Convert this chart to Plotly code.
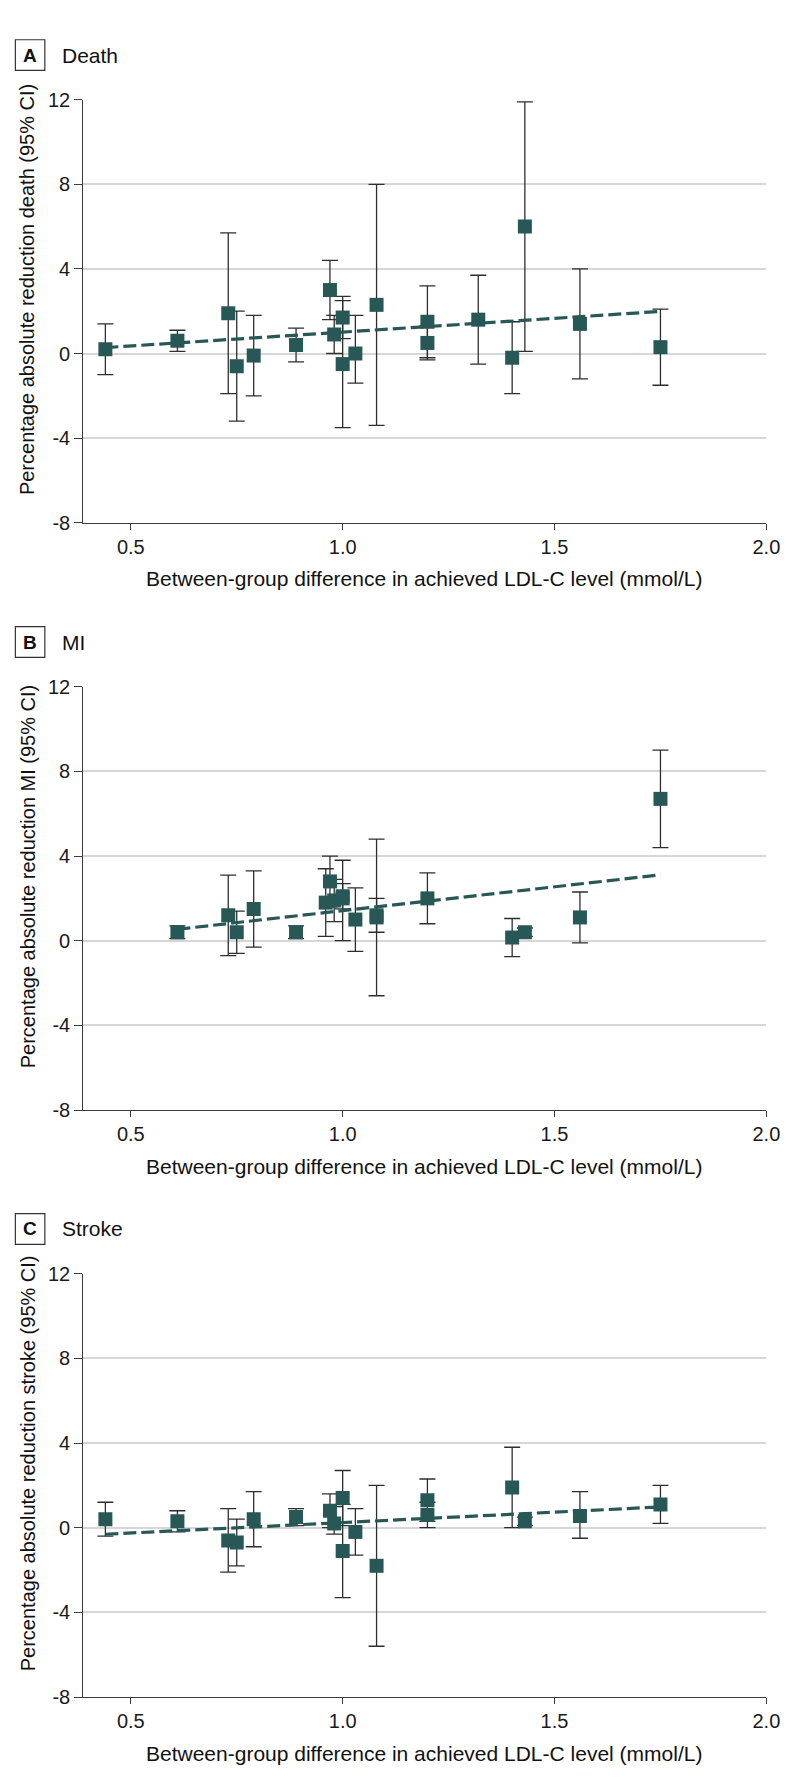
import plotly.graph_objects as go

W, H = 794, 1784

# ---- datos ----
ldl_death = [0.44, 0.61, 0.73, 0.75, 0.79, 0.89, 0.97, 0.98, 1.00, 1.00, 1.03, 1.08, 1.20, 1.20, 1.32, 1.40, 1.43, 1.56, 1.75]
arr_death = [0.2, 0.6, 1.9, -0.6, -0.1, 0.4, 3.0, 0.9, 1.7, -0.5, 0.0, 2.3, 1.5, 0.5, 1.6, -0.2, 6.0, 1.4, 0.3]
lo_death = [-1.0, 0.1, -1.9, -3.2, -2.0, -0.4, 1.6, 0.0, 0.7, -3.5, -1.4, -3.4, -0.2, -0.3, -0.5, -1.9, 0.1, -1.2, -1.5]
hi_death = [1.4, 1.1, 5.7, 2.0, 1.8, 1.2, 4.4, 1.8, 2.7, 2.5, 1.8, 8.0, 3.2, 1.3, 3.7, 1.5, 11.9, 4.0, 2.1]
fit_death_x = [0.44, 1.75]
fit_death_y = [0.28, 1.99]

ldl_mi = [0.61, 0.73, 0.75, 0.79, 0.89, 0.96, 0.97, 0.98, 1.00, 1.00, 1.03, 1.08, 1.08, 1.20, 1.40, 1.43, 1.56, 1.75]
arr_mi = [0.4, 1.2, 0.4, 1.5, 0.4, 1.8, 2.8, 1.9, 2.0, 2.1, 1.0, 1.1, 1.2, 2.0, 0.15, 0.4, 1.1, 6.7]
lo_mi = [0.1, -0.7, -0.6, -0.3, 0.1, 0.2, 1.6, 0.9, 0.0, 1.5, -0.5, -2.6, 0.4, 0.8, -0.75, 0.2, -0.1, 4.4]
hi_mi = [0.7, 3.1, 1.4, 3.3, 0.7, 3.4, 4.0, 2.9, 3.8, 2.7, 2.5, 4.8, 2.0, 3.2, 1.05, 0.6, 2.3, 9.0]
fit_mi_x = [0.61, 1.75]
fit_mi_y = [0.54, 3.11]

ldl_stroke = [0.44, 0.61, 0.73, 0.75, 0.79, 0.89, 0.97, 0.98, 1.00, 1.00, 1.03, 1.08, 1.20, 1.20, 1.40, 1.43, 1.56, 1.75]
arr_stroke = [0.4, 0.3, -0.6, -0.7, 0.4, 0.5, 0.8, 0.2, 1.4, -1.1, -0.2, -1.8, 1.3, 0.6, 1.9, 0.3, 0.55, 1.1]
lo_stroke = [-0.4, -0.2, -2.1, -1.8, -0.9, 0.1, 0.0, -0.3, 0.1, -3.3, -1.3, -5.6, 0.3, 0.0, 0.0, 0.1, -0.5, 0.2]
hi_stroke = [1.2, 0.8, 0.9, 0.4, 1.7, 0.9, 1.6, 1.0, 2.7, 1.1, 0.9, 2.0, 2.3, 1.2, 3.8, 0.5, 1.7, 2.0]
fit_stroke_x = [0.44, 1.75]
fit_stroke_y = [-0.31, 0.98]

paneles = [
    ("A", "Death", "death", ldl_death, arr_death, lo_death, hi_death, fit_death_x, fit_death_y),
    ("B", "MI", "MI", ldl_mi, arr_mi, lo_mi, hi_mi, fit_mi_x, fit_mi_y),
    ("C", "Stroke", "stroke", ldl_stroke, arr_stroke, lo_stroke, hi_stroke, fit_stroke_x, fit_stroke_y),
]

x_ticks = [0.5, 1.0, 1.5, 2.0]
x_labels = ["0.5", "1.0", "1.5", "2.0"]
y_ticks = [-8, -4, 0, 4, 8, 12]
y_labels = ["-8", "-4", "0", "4", "8", "12"]

# ---- estilo ----
FONT = "Liberation Sans, Arial, sans-serif"
VERDE = "#275856"
GRIS_ERR = "#2e2e2e"
EJE = "#3c3c3c"
GRID = "#d6d6d6"

# posiciones en pixeles (borde superior / inferior de cada panel)
tops = [81.7, 676.0, 1270.3]
bottoms = [510.0, 1104.7, 1699.0]
LEFT, RIGHT = 76.7, 772.0


def fx(px):
    return px / W


def fy(px):
    return 1 - px / H


fig = go.Figure()
annots = []
shapes = []

for i, (letra, nombre, etiqueta, xs, ys, lo, hi, fxs, fys) in enumerate(paneles):
    n = "" if i == 0 else str(i + 1)
    ax_x, ax_y = "x" + n, "y" + n

    plus = [h - v for h, v in zip(hi, ys)]
    minus = [v - l for v, l in zip(ys, lo)]

    fig.add_trace(go.Scatter(
        x=xs, y=ys, mode="markers", xaxis=ax_x, yaxis=ax_y,
        marker=dict(symbol="square", size=14, color=VERDE, line=dict(width=0)),
        error_y=dict(type="data", symmetric=False, array=plus, arrayminus=minus,
                     color=GRIS_ERR, thickness=1.3, width=8),
        showlegend=False, hoverinfo="skip"))

    fig.add_trace(go.Scatter(
        x=fxs, y=fys, mode="lines", xaxis=ax_x, yaxis=ax_y,
        line=dict(color=VERDE, width=3.2, dash="13px,5px"),
        showlegend=False, hoverinfo="skip"))

    top, bot = tops[i], bottoms[i]
    fig.layout["xaxis" + n] = dict(
        domain=[fx(LEFT), fx(RIGHT)], anchor=ax_y, range=[0.388, 2.0],
        tickvals=x_ticks, ticktext=x_labels,
        showgrid=False, zeroline=False, showline=True, linecolor=EJE, linewidth=1.2,
        ticks="outside", ticklen=6, tickcolor=EJE, tickwidth=1.2,
        tickfont=dict(family=FONT, size=20, color="#1a1a1a"))
    fig.layout["yaxis" + n] = dict(
        domain=[fy(bot), fy(top)], anchor=ax_x, range=[-8, 12],
        tickvals=y_ticks, ticktext=y_labels, showgrid=True, gridcolor=GRID, gridwidth=1.5,
        zeroline=False, showline=True, linecolor=EJE, linewidth=1.2,
        ticks="outside", ticklen=8, tickcolor=EJE, tickwidth=1.2,
        tickfont=dict(family=FONT, size=20, color="#1a1a1a"))

    # cabecera: letra en caja + nombre
    cy = top - 45.2
    shapes.append(dict(type="rect", xref="paper", yref="paper",
                       x0=fx(7.5), x1=fx(37.5), y0=fy(cy + 15.5), y1=fy(cy - 15.5),
                       line=dict(color="#333333", width=1.2), fillcolor="white"))
    annots.append(dict(text="<b>" + letra + "</b>", x=fx(22.5), y=fy(cy), xref="paper", yref="paper",
                       showarrow=False, xanchor="center", yanchor="middle",
                       font=dict(family=FONT, size=19, color="#111111")))
    annots.append(dict(text=nombre, x=fx(53), y=fy(cy), xref="paper", yref="paper",
                       showarrow=False, xanchor="left", yanchor="middle",
                       font=dict(family=FONT, size=21, color="#111111")))

    # titulos de ejes
    annots.append(dict(text="Between-group difference in achieved LDL-C level (mmol/L)",
                       x=fx(423), y=fy(bot + 56.7), xref="paper", yref="paper",
                       showarrow=False, xanchor="center", yanchor="middle",
                       font=dict(family=FONT, size=21, color="#111111")))
    annots.append(dict(text="Percentage absolute reduction " + etiqueta + " (95% CI)",
                       x=fx(20), y=fy((top + bot) / 2 - 22), xref="paper", yref="paper",
                       showarrow=False, textangle=-90, xanchor="center", yanchor="middle",
                       font=dict(family=FONT, size=20, color="#111111")))

fig.update_layout(
    width=W, height=H,
    margin=dict(l=0, r=0, t=0, b=0),
    paper_bgcolor="white", plot_bgcolor="white",
    annotations=annots, shapes=shapes,
)

fig.write_html("out.html")
